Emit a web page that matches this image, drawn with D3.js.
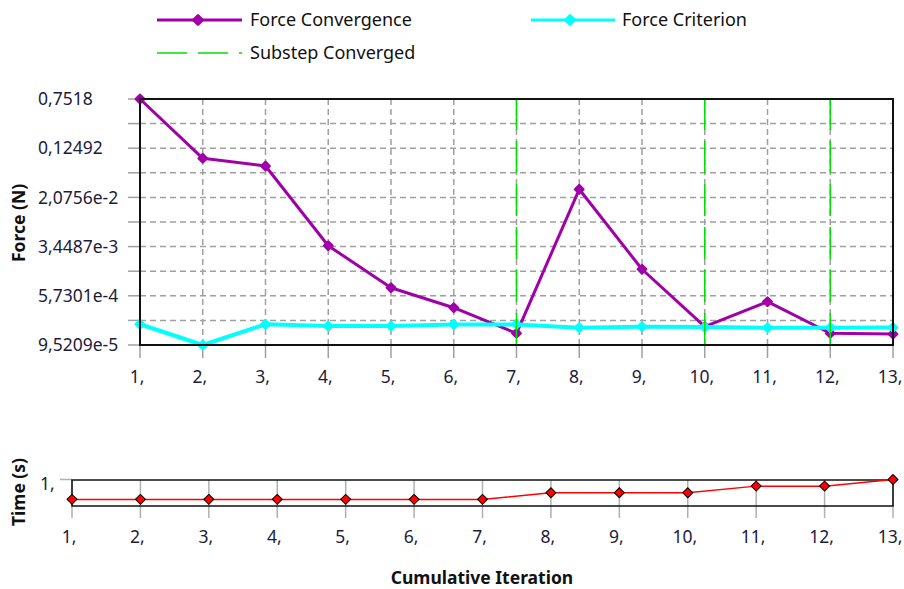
<!DOCTYPE html>
<html>
<head>
<meta charset="utf-8">
<script src="https://d3js.org/d3.v7.min.js"></script>
<style>
  body { margin: 0; background: #fff; }
  text { font-family: "Noto Sans", sans-serif; }
</style>
</head>
<body>
<div id="chart"></div>
<script>
// iterations 1..13
var iterations = [1, 2, 3, 4, 5, 6, 7, 8, 9, 10, 11, 12, 13];
var forceConvergence = [0.7518, 0.0864, 0.0652, 3.56e-3, 7.69e-4, 3.71e-4, 1.46e-4,
                        0.0279, 1.51e-3, 1.86e-4, 4.62e-4, 1.46e-4, 1.42e-4];
var forceCriterion = [2.03e-4, 9.5209e-5, 2.03e-4, 1.90e-4, 1.90e-4, 2.02e-4, 2.02e-4,
                      1.79e-4, 1.86e-4, 1.84e-4, 1.79e-4, 1.79e-4, 1.80e-4];
var substepConverged = [7, 10, 12];
var timeValues = [0.25, 0.25, 0.25, 0.25, 0.25, 0.25, 0.25, 0.5, 0.5, 0.5, 0.75, 0.75, 1];

var yTickValues = [0.7518, 0.12492, 2.0756e-2, 3.4487e-3, 5.7301e-4, 9.5209e-5];
var yTickLabels = ["0,7518", "0,12492", "2,0756e-2", "3,4487e-3", "5,7301e-4", "9,5209e-5"];
var xTickLabels = iterations.map(function(d) { return d + ","; });

var purple = "#a000a8", cyan = "#00ffff", green = "#00e000", red = "#ff0000";
var textCol = "#1c1c3c";

var width = 904, height = 589;
var svg = d3.select("#chart").append("svg")
  .attr("width", width).attr("height", height);

// rounded diamond marker
var diamond = function(size) {
  return d3.symbol().type(d3.symbolSquare).size(size)();
};

// ---------- main chart ----------
var xs = d3.scaleLinear().domain([1, 13]).range([140, 893]);
var ys = d3.scaleLog().domain([9.5209e-5, 0.7518]).range([345, 99]);

// minor grid between labelled ticks
var minor = [];
for (var i = 0; i < yTickValues.length - 1; i++) {
  minor.push(Math.sqrt(yTickValues[i] * yTickValues[i + 1]));
}
var allY = yTickValues.concat(minor);

var grid = svg.append("g");
grid.selectAll("line.h").data(allY).enter().append("line")
  .attr("x1", 128).attr("x2", 140)
  .attr("y1", function(d) { return ys(d); }).attr("y2", function(d) { return ys(d); })
  .attr("stroke", "#a0a0a0").attr("stroke-width", 1.5);
grid.selectAll("line.hg").data(allY).enter().append("line")
  .attr("x1", 140).attr("x2", 893)
  .attr("y1", function(d) { return ys(d); }).attr("y2", function(d) { return ys(d); })
  .attr("stroke", "#a0a0a0").attr("stroke-width", 1.5).attr("stroke-dasharray", "6,4");
grid.selectAll("line.vg").data(iterations).enter().append("line")
  .attr("x1", function(d) { return xs(d); }).attr("x2", function(d) { return xs(d); })
  .attr("y1", 99).attr("y2", 345)
  .attr("stroke", "#a0a0a0").attr("stroke-width", 1.5).attr("stroke-dasharray", "6,4");
grid.selectAll("line.vt").data(iterations).enter().append("line")
  .attr("x1", function(d) { return xs(d); }).attr("x2", function(d) { return xs(d); })
  .attr("y1", 345).attr("y2", 358)
  .attr("stroke", "#a0a0a0").attr("stroke-width", 1.5);

// tick labels
svg.append("g").selectAll("text").data(yTickValues).enter().append("text")
  .attr("x", 38).attr("y", function(d) { return ys(d); })
  .attr("dy", "0.35em")
  .attr("fill", textCol).style("font-size", "17.5px")
  .text(function(d, i) { return yTickLabels[i]; });
svg.append("g").selectAll("text").data(iterations).enter().append("text")
  .attr("x", function(d) { return xs(d) - 3; }).attr("y", 383)
  .attr("text-anchor", "middle")
  .attr("fill", textCol).style("font-size", "17.5px")
  .text(function(d, i) { return xTickLabels[i]; });

// series
var lineF = d3.line()
  .x(function(d, i) { return xs(iterations[i]); })
  .y(function(d) { return ys(d); });

function drawSeries(values, color, w) {
  svg.append("path").datum(values)
    .attr("fill", "none").attr("stroke", color).attr("stroke-width", w)
    .attr("stroke-linejoin", "round")
    .attr("d", lineF);
  svg.append("g").selectAll("path").data(values).enter().append("path")
    .attr("d", diamond(34))
    .attr("transform", function(d, i) { return "translate(" + xs(iterations[i]) + "," + ys(d) + ") rotate(45)"; })
    .attr("fill", color).attr("stroke", color).attr("stroke-width", 2.5).attr("stroke-linejoin", "round");
}
drawSeries(forceConvergence, purple, 3);
drawSeries(forceCriterion, cyan, 4);

// substep converged
svg.append("g").selectAll("line").data(substepConverged).enter().append("line")
  .attr("x1", function(d) { return xs(d); }).attr("x2", function(d) { return xs(d); })
  .attr("y1", 345).attr("y2", 99)
  .attr("stroke", green).attr("stroke-width", 1.5).attr("stroke-dasharray", "32,11");

// frame
svg.append("rect").attr("x", 140).attr("y", 99).attr("width", 753).attr("height", 246)
  .attr("fill", "none").attr("stroke", "#111").attr("stroke-width", 2);

// y label
svg.append("text")
  .attr("transform", "translate(25,223) rotate(-90)")
  .attr("text-anchor", "middle")
  .style("font-size", "17.5px").style("font-weight", "bold").attr("fill", "#111")
  .text("Force (N)");

// ---------- legend ----------
var legend = svg.append("g");
legend.append("line").attr("x1", 157).attr("x2", 242).attr("y1", 20).attr("y2", 20)
  .attr("stroke", purple).attr("stroke-width", 3);
legend.append("path").attr("d", diamond(44))
  .attr("transform", "translate(198,20) rotate(45)").attr("fill", purple).attr("stroke", purple)
  .attr("stroke-width", 2.5).attr("stroke-linejoin", "round");
legend.append("text").attr("x", 250).attr("y", 20).attr("dy", "0.35em")
  .style("font-size", "18px").attr("fill", "#111").text("Force Convergence");

legend.append("line").attr("x1", 531).attr("x2", 615).attr("y1", 20).attr("y2", 20)
  .attr("stroke", cyan).attr("stroke-width", 3);
legend.append("path").attr("d", diamond(44))
  .attr("transform", "translate(570,20) rotate(45)").attr("fill", cyan).attr("stroke", cyan)
  .attr("stroke-width", 2.5).attr("stroke-linejoin", "round");
legend.append("text").attr("x", 622).attr("y", 20).attr("dy", "0.35em")
  .style("font-size", "18px").attr("fill", "#111").text("Force Criterion");

legend.append("line").attr("x1", 157).attr("x2", 242).attr("y1", 53).attr("y2", 53)
  .attr("stroke", green).attr("stroke-width", 1.5).attr("stroke-dasharray", "30,11");
legend.append("text").attr("x", 250).attr("y", 53).attr("dy", "0.35em")
  .style("font-size", "18px").attr("fill", "#111").text("Substep Converged");

// ---------- time chart ----------
var xt = d3.scaleLinear().domain([1, 13]).range([72, 893]);
var yt = d3.scaleLinear().domain([0, 1]).range([506, 479.5]);

svg.append("g").selectAll("line").data(iterations).enter().append("line")
  .attr("x1", function(d) { return xt(d); }).attr("x2", function(d) { return xt(d); })
  .attr("y1", 480).attr("y2", 518)
  .attr("stroke", "#b0b0b0").attr("stroke-width", 1.5);
svg.append("line").attr("x1", 60).attr("x2", 72).attr("y1", yt(1)).attr("y2", yt(1))
  .attr("stroke", "#b0b0b0").attr("stroke-width", 1.5);

svg.append("rect").attr("x", 72).attr("y", 480).attr("width", 821).attr("height", 26)
  .attr("fill", "none").attr("stroke", "#111").attr("stroke-width", 1.5);

var lineT = d3.line()
  .x(function(d, i) { return xt(iterations[i]); })
  .y(function(d) { return yt(d); });
svg.append("path").datum(timeValues)
  .attr("fill", "none").attr("stroke", red).attr("stroke-width", 1.5).attr("d", lineT);
svg.append("g").selectAll("path").data(timeValues).enter().append("path")
  .attr("d", diamond(50))
  .attr("transform", function(d, i) { return "translate(" + xt(iterations[i]) + "," + yt(d) + ") rotate(45)"; })
  .attr("fill", red).attr("stroke", "#000").attr("stroke-width", 1);

svg.append("text").attr("x", 40).attr("y", yt(1) + 4).attr("dy", "0.35em")
  .attr("fill", textCol).style("font-size", "17.5px").text("1,");

svg.append("g").selectAll("text").data(iterations).enter().append("text")
  .attr("x", function(d) { return xt(d) - 3; }).attr("y", 543)
  .attr("text-anchor", "middle")
  .attr("fill", textCol).style("font-size", "17.5px")
  .text(function(d, i) { return xTickLabels[i]; });

svg.append("text")
  .attr("transform", "translate(25,492) rotate(-90)")
  .attr("text-anchor", "middle")
  .style("font-size", "17.5px").style("font-weight", "bold").attr("fill", "#111")
  .text("Time (s)");

svg.append("text").attr("x", 482).attr("y", 584)
  .attr("text-anchor", "middle")
  .style("font-size", "17.5px").style("font-weight", "bold").attr("fill", "#111")
  .text("Cumulative Iteration");
</script>
</body>
</html>
